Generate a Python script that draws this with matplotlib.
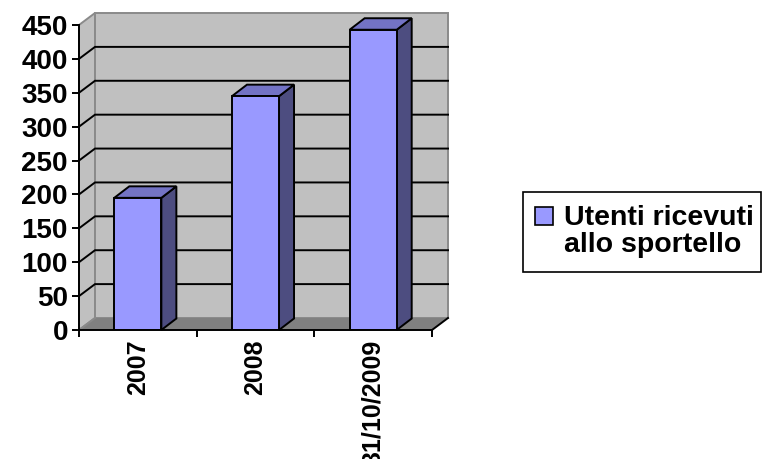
import matplotlib
matplotlib.use('Agg')
import matplotlib.pyplot as plt
from matplotlib.patches import Polygon, Rectangle

categories = ['2007', '2008', '31/10/2009']
values = [195, 345, 443]
yticks = [0, 50, 100, 150, 200, 250, 300, 350, 400, 450]
series_name = 'Utenti ricevuti\nallo sportello'

FONT = 'Liberation Sans'
W, H = 762, 459
fig = plt.figure(figsize=(W / 100, H / 100), dpi=100)

# axes extent in pixels (top-down)
axL, axR, axT, axB = 79, 455, 13, 330
ax = fig.add_axes([axL / W, 1 - axB / H, (axR - axL) / W, (axB - axT) / H])
ax.patch.set_visible(False)

n = len(categories)
xpx = (432 - 79) / n          # pixels per category
ymax = yticks[-1]
ypx = (330 - 25) / ymax       # pixels per unit
ax.set_xlim(-0.5, -0.5 + (axR - axL) / xpx)
ax.set_ylim(0, (axB - axT) / ypx)

wdx, wdy = 16 / xpx, 12 / ypx      # wall depth
bdx, bdy = 15 / xpx, 11.5 / ypx    # bar depth
x0, x1 = -0.5, n - 0.5
wall_c, wall_e, floor_c = '#c0c0c0', '#8a8a8a', '#808080'
front_c, side_c, top_c = '#9999ff', '#4d4d80', '#7373c4'
lw = 1.4

# side wall
ax.add_patch(Polygon([(x0, 0), (x0 + wdx, wdy), (x0 + wdx, ymax + wdy), (x0, ymax)],
                     closed=True, fc=wall_c, ec=wall_e, lw=lw, zorder=1, clip_on=False))
# back wall
ax.add_patch(Rectangle((x0 + wdx, wdy), x1 - x0, ymax, fc=wall_c, ec=wall_e, lw=lw,
                       zorder=1, clip_on=False))
# floor
ax.add_patch(Polygon([(x0, 0), (x1, 0), (x1 + wdx, wdy), (x0 + wdx, wdy)],
                     closed=True, fc=floor_c, ec='none', zorder=1.5, clip_on=False))
ax.plot([x0, x0 + wdx], [0, wdy], color=wall_e, lw=lw, zorder=1.6, clip_on=False)
ax.plot([x1, x1 + wdx], [0, wdy], color='black', lw=lw, zorder=1.6, clip_on=False)

# gridlines on side wall and back wall
for t in yticks[1:-1]:
    ax.plot([x0, x0 + wdx, x1 + wdx], [t, t + wdy, t + wdy], color='black', lw=lw,
            zorder=2, clip_on=False, solid_joinstyle='miter')

# bars
bw = 0.40
xs = list(range(n))
ax.bar(xs, values, width=bw, color=front_c, edgecolor='black', linewidth=lw, zorder=4)
for xi, v in zip(xs, values):
    l, r = xi - bw / 2, xi + bw / 2
    ax.add_patch(Polygon([(r, 0), (r + bdx, bdy), (r + bdx, v + bdy), (r, v)], closed=True,
                         fc=side_c, ec='black', lw=lw, zorder=3.5, clip_on=False,
                         joinstyle='miter'))
    ax.add_patch(Polygon([(l, v), (r, v), (r + bdx, v + bdy), (l + bdx, v + bdy)], closed=True,
                         fc=top_c, ec='black', lw=lw, zorder=3.5, clip_on=False,
                         joinstyle='miter'))

# axes
for s in ('top', 'right'):
    ax.spines[s].set_visible(False)
ax.spines['left'].set_bounds(0, ymax)
ax.spines['bottom'].set_bounds(x0, x1)
for s in ('left', 'bottom'):
    ax.spines[s].set_linewidth(lw)
    ax.spines[s].set_zorder(5)

ax.set_yticks(yticks)
ax.set_yticklabels([str(t) for t in yticks], fontsize=20, fontweight='bold', family=FONT)
ax.tick_params(axis='y', direction='out', length=5, width=lw, pad=3)

ax.set_xticks([x0 + i for i in range(n + 1)])
ax.set_xticklabels([])
ax.tick_params(axis='x', which='major', direction='out', length=5, width=lw)
ax.set_xticks(xs, minor=True)
ax.set_xticklabels(categories, minor=True, rotation=90, fontsize=18, fontweight='bold',
                   family=FONT)
ax.tick_params(axis='x', which='minor', length=0, pad=7)

# legend (drawn manually to match layout)
def fx(px):
    return px / W

def fy(py):
    return 1 - py / H

fig.patches.append(Rectangle((fx(523), fy(272)), fx(761) - fx(523), fy(192) - fy(272),
                             transform=fig.transFigure, fc='white', ec='black', lw=1.2))
fig.patches.append(Rectangle((fx(535), fy(225)), fx(553) - fx(535), fy(207) - fy(225),
                             transform=fig.transFigure, fc=front_c, ec='black', lw=1.2))
for i, line in enumerate(series_name.split('\n')):
    fig.text(fx(564), fy(225 + 27 * i), line, fontsize=20.5, fontweight='bold', family=FONT,
             ha='left', va='baseline')

fig.savefig('out.png', dpi=100)
